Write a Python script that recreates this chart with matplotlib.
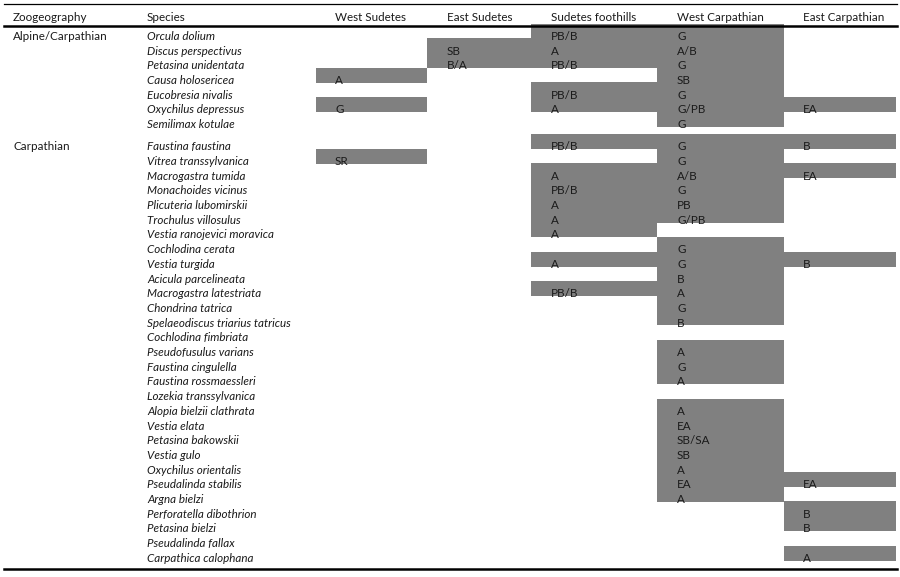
import matplotlib
matplotlib.use("Agg")
import matplotlib.pyplot as plt

# Table content
headers = ["Zoogeography", "Species", "West Sudetes", "East Sudetes",
           "Sudetes foothills", "West Carpathian", "East Carpathian"]

alpine_species = ["Orcula dolium", "Discus perspectivus", "Petasina unidentata",
                  "Causa holosericea", "Eucobresia nivalis", "Oxychilus depressus",
                  "Semilimax kotulae"]

carpathian_species = ["Faustina faustina", "Vitrea transsylvanica", "Macrogastra tumida",
                      "Monachoides vicinus", "Plicuteria lubomirskii", "Trochulus villosulus",
                      "Vestia ranojevici moravica", "Cochlodina cerata", "Vestia turgida",
                      "Acicula parcelineata", "Macrogastra latestriata", "Chondrina tatrica",
                      "Spelaeodiscus triarius tatricus", "Cochlodina fimbriata",
                      "Pseudofusulus varians", "Faustina cingulella", "Faustina rossmaessleri",
                      "Lozekia transsylvanica", "Alopia bielzii clathrata", "Vestia elata",
                      "Petasina bakowskii", "Vestia gulo", "Oxychilus orientalis",
                      "Pseudalinda stabilis", "Argna bielzi", "Perforatella dibothrion",
                      "Petasina bielzi", "Pseudalinda fallax", "Carpathica calophana"]

west_sudetes = {"Causa holosericea": "A", "Oxychilus depressus": "G",
                "Vitrea transsylvanica": "SR"}

east_sudetes = {"Discus perspectivus": "SB", "Petasina unidentata": "B/A"}

sudetes_foothills = {"Orcula dolium": "PB/B", "Discus perspectivus": "A",
                     "Petasina unidentata": "PB/B", "Eucobresia nivalis": "PB/B",
                     "Oxychilus depressus": "A", "Faustina faustina": "PB/B",
                     "Macrogastra tumida": "A", "Monachoides vicinus": "PB/B",
                     "Plicuteria lubomirskii": "A", "Trochulus villosulus": "A",
                     "Vestia ranojevici moravica": "A", "Vestia turgida": "A",
                     "Macrogastra latestriata": "PB/B"}

west_carpathian = {"Orcula dolium": "G", "Discus perspectivus": "A/B",
                   "Petasina unidentata": "G", "Causa holosericea": "SB",
                   "Eucobresia nivalis": "G", "Oxychilus depressus": "G/PB",
                   "Semilimax kotulae": "G", "Faustina faustina": "G",
                   "Vitrea transsylvanica": "G", "Macrogastra tumida": "A/B",
                   "Monachoides vicinus": "G", "Plicuteria lubomirskii": "PB",
                   "Trochulus villosulus": "G/PB", "Cochlodina cerata": "G",
                   "Vestia turgida": "G", "Acicula parcelineata": "B",
                   "Macrogastra latestriata": "A", "Chondrina tatrica": "G",
                   "Spelaeodiscus triarius tatricus": "B", "Pseudofusulus varians": "A",
                   "Faustina cingulella": "G", "Faustina rossmaessleri": "A",
                   "Alopia bielzii clathrata": "A", "Vestia elata": "EA",
                   "Petasina bakowskii": "SB/SA", "Vestia gulo": "SB",
                   "Oxychilus orientalis": "A", "Pseudalinda stabilis": "EA",
                   "Argna bielzi": "A"}

east_carpathian = {"Oxychilus depressus": "EA", "Faustina faustina": "B",
                   "Macrogastra tumida": "EA", "Vestia turgida": "B",
                   "Pseudalinda stabilis": "EA", "Perforatella dibothrion": "B",
                   "Petasina bielzi": "B", "Carpathica calophana": "A"}

regions = [west_sudetes, east_sudetes, sudetes_foothills,
           west_carpathian, east_carpathian]

# layout (pixels across, rows down)
col_edges = [316, 427, 531, 657, 784, 896]
col_text_x = [335, 447, 551, 677, 803]
gray = "#808080"
txt_color = "#1a1a1a"

# row positions: alpine group, half-row gap, carpathian group
rows = {}
for i, s in enumerate(alpine_species):
    rows[s] = i
for j, s in enumerate(carpathian_species):
    rows[s] = 7.5 + j

fig = plt.figure(figsize=(9, 5.77), dpi=100)
ax = fig.add_axes([0, 0, 1, 1])
ax.set_xlim(0, 900)
ax.set_ylim(36.87, -2.381)
ax.axis("off")

font = "Lato"
fs = 8.4
dy = 0.1  # text sits a little low in its cell

# gray cells
for k, col in enumerate(regions):
    ys = [rows[s] - 0.255 for s in col]
    ax.barh(ys, col_edges[k + 1] - col_edges[k], height=1.03, left=col_edges[k],
            color=gray, linewidth=0, antialiased=False, zorder=1)
    for s, code in col.items():
        ax.text(col_text_x[k], rows[s] + dy, code, fontsize=fs, family=font,
                color=txt_color, va="center", ha="left", zorder=3)

# header
header_x = [13, 147] + col_text_x
for x, h in zip(header_x, headers):
    ax.text(x, -1.29 + dy, h, fontsize=fs, family=font, color=txt_color,
            va="center", ha="left", zorder=3)

# zoogeography labels
ax.text(13, 0 + dy, "Alpine/Carpathian", fontsize=fs, family=font, color=txt_color,
        va="center", ha="left")
ax.text(13, 7.5 + dy, "Carpathian", fontsize=fs, family=font, color=txt_color,
        va="center", ha="left")

# species names
for s, r in rows.items():
    ax.text(147, r + dy, s, fontsize=fs, family=font, style="italic", color=txt_color,
            va="center", ha="left")

# rules
ax.plot([4, 897], [-2.1, -2.1], color="black", lw=0.9, zorder=4)
ax.plot([4, 897], [-0.6, -0.6], color="black", lw=1.8, zorder=4)
ax.plot([4, 897], [36.35, 36.35], color="black", lw=1.8, zorder=4)

fig.savefig("out.png", dpi=100)
